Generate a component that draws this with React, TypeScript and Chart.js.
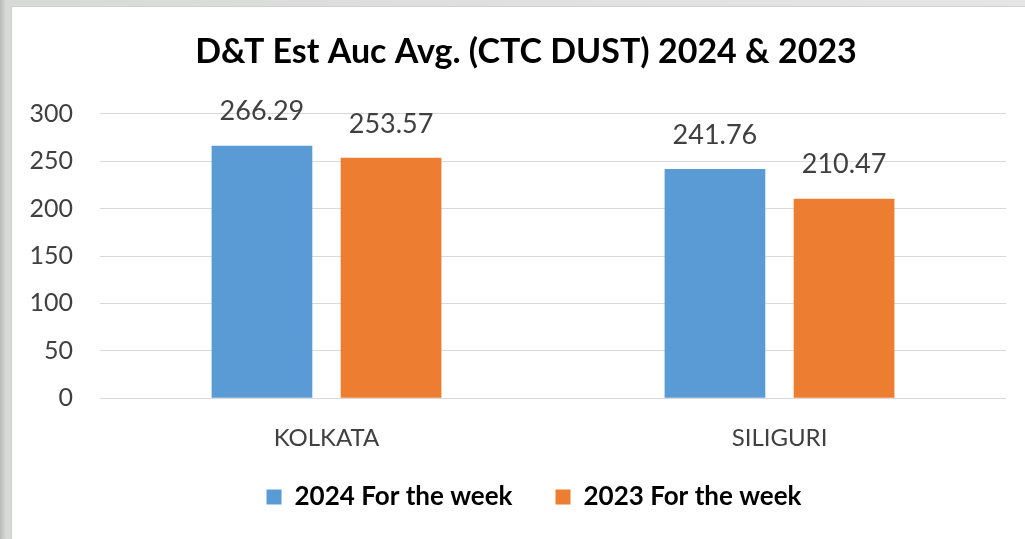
import React, { useEffect, useRef } from "react";
import { Chart, registerables } from "chart.js";

Chart.register(...registerables);

const categories = ["KOLKATA", "SILIGURI"];
const series2024 = [266.29, 241.76];
const series2023 = [253.57, 210.47];
const seriesNames = ["2024 For the week", "2023 For the week"];
const titleText = "D&T Est Auc Avg. (CTC DUST) 2024 & 2023";

const FONT = "Lato, 'Open Sans', sans-serif";

const valueLabels = {
  id: "valueLabels",
  afterDatasetsDraw(chart: any) {
    const ctx = chart.ctx;
    ctx.save();
    ctx.font = `27px ${FONT}`;
    ctx.fillStyle = "#404040";
    ctx.textAlign = "center";
    ctx.textBaseline = "middle";
    chart.data.datasets.forEach((ds: any, i: number) => {
      const meta = chart.getDatasetMeta(i);
      meta.data.forEach((bar: any, j: number) => {
        ctx.fillText((ds.data[j] as number).toFixed(2), bar.x, bar.y - 34);
      });
    });
    ctx.restore();
  },
};

const shiftBlocks = {
  id: "shiftBlocks",
  afterLayout(chart: any) {
    if (chart.legend) { chart.legend.left += 25; chart.legend.right += 25; }
    if (chart.titleBlock) { chart.titleBlock.left += 17; chart.titleBlock.right += 17; }
  },
};

export default function App() {
  const ref = useRef<HTMLCanvasElement>(null);
  useEffect(() => {
    document.body.style.margin = "0";
    const chart = new Chart(ref.current!, {
      type: "bar",
      data: {
        labels: categories,
        datasets: [
          { label: seriesNames[0], data: series2024, backgroundColor: "#5B9BD5" },
          { label: seriesNames[1], data: series2023, backgroundColor: "#ED7D31" },
        ],
      },
      options: {
        animation: false,
        responsive: false,
        layout: { padding: { left: 0, right: 20, top: 0, bottom: 20 } },
        datasets: { bar: { categoryPercentage: 0.57, barPercentage: 0.78 } } as any,
        plugins: {
          title: {
            display: true,
            text: titleText,
            color: "#000000",
            font: { family: FONT, size: 34, weight: "bold" },
            padding: { top: 25, bottom: 41 },
          },
          legend: {
            position: "bottom",
            labels: {
              color: "#000000",
              font: { family: FONT, size: 26, weight: "bold" },
              boxWidth: 15,
              boxHeight: 15,
              padding: 4,
              generateLabels: (chart: any) => {
                const items = Chart.defaults.plugins.legend.labels.generateLabels(chart);
                items.forEach((it: any, i: number) => {
                  if (i < items.length - 1) it.text = it.text + "\u2003\u2003";
                });
                return items;
              },
            },
          },
          tooltip: { enabled: false },
        },
        scales: {
          x: {
            grid: { display: false, drawTicks: false },
            border: { display: false },
            ticks: { color: "#404040", font: { family: FONT, size: 24 }, padding: 26 },
            afterFit: (s: any) => { s.height += 1; },
          },
          y: {
            min: 0,
            max: 300,
            ticks: { stepSize: 50, color: "#404040", font: { family: FONT, size: 25 }, padding: 27 },
            grid: { color: "#D9D9D9", drawTicks: false },
            border: { display: false },
            afterFit: (s: any) => { s.width = 88; },
          },
        },
      },
      plugins: [valueLabels, shiftBlocks],
    });
    return () => chart.destroy();
  }, []);
  return (
    <div style={{ position: "relative", width: 1025, height: 539, background: "linear-gradient(90deg,#b8bcb8,#d8dad8 6px,#e6e6e6)", overflow: "hidden" }}>
      <div style={{ position: "absolute", left: 11, top: 6, width: 1014, height: 533, background: "#ffffff", borderLeft: "1px solid #d0d0d0", borderTop: "1px solid #d0d0d0" }}>
        <canvas ref={ref} width={1014} height={533} style={{ display: "block" }} />
      </div>
    </div>
  );
}
